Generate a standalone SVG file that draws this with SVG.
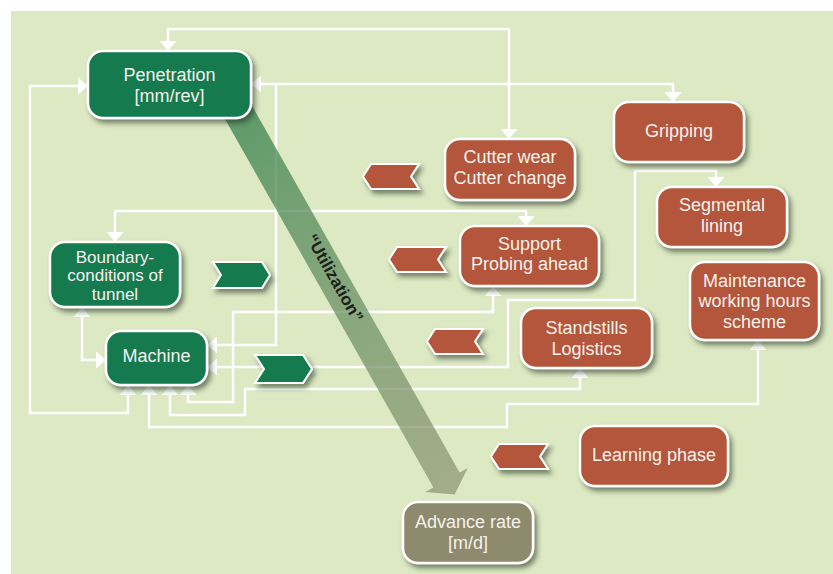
<svg xmlns="http://www.w3.org/2000/svg" width="833" height="574" viewBox="0 0 833 574">
<defs>
<filter id="sh" x="-20%" y="-20%" width="150%" height="160%">
<feDropShadow dx="3" dy="4" stdDeviation="2.5" flood-color="#1e2e1a" flood-opacity="0.55"/>
</filter>
<marker id="ah" viewBox="0 0 10 17" markerWidth="10" markerHeight="17" refX="10" refY="8.5" orient="auto-start-reverse" markerUnits="userSpaceOnUse">
<path d="M0,0 L10,8.5 L0,17 z" fill="#ffffff"/>
</marker>
<linearGradient id="bandg" gradientUnits="userSpaceOnUse" x1="231" y1="100" x2="450" y2="490">
<stop offset="0" stop-color="#2b7a47"/>
<stop offset="0.45" stop-color="#5f8c5e"/>
<stop offset="1" stop-color="#8e9571"/>
</linearGradient>
</defs>
<style>
.conn{fill:none;stroke:#ffffff;stroke-width:2.5;marker-start:url(#ah);marker-end:url(#ah)}
.one{marker-end:none}
.box{stroke:#ffffff;stroke-width:2.5;filter:url(#sh)}
.g{fill:#127a4f}
.r{fill:#b3563a}
.a{fill:#8d8a6d}
.t{font-family:"Liberation Sans",Arial,sans-serif;font-size:18px;fill:#f5f1ec;text-anchor:middle}
.s{font-size:17px}
.chev{stroke:#ffffff;stroke-width:2;filter:url(#sh)}
.ut{font-family:"Liberation Sans",Arial,sans-serif;font-size:17px;font-weight:bold;fill:#1d1f1b;text-anchor:middle}
</style>
<rect x="0" y="0" width="833" height="574" fill="#ffffff"/>
<rect x="11" y="11" width="822" height="563" fill="#dce9c3"/>

<g id="connectors">
<path class="conn" d="M168,51 V29 H509 V139"/>
<path class="conn" d="M251,84 H673 V102"/>
<path class="conn one" d="M207,345 H276 V84"/>
<path class="conn" d="M207,367 H508 V300 H635 V171 H716 V187"/>
<path class="conn" d="M188,385 V402 H233 V312 H493 V286"/>
<path class="conn" d="M170,385 V415 H245 V389 H580 V368"/>
<path class="conn" d="M149,385 V427 H507 V404 H758 V340"/>
<path class="conn" d="M128,385 V413 H30 V86 H88"/>
<path class="conn" d="M115,242 V211 H526 V226"/>
<path class="conn" d="M82,307 V360 H106"/>
</g>

<g id="utilization">
<polygon points="244.6,92.6 459.6,472.6 467.8,467.9 454.7,494.5 425.2,492.1 433.4,487.4 218.4,107.4" fill="url(#bandg)" opacity="0.72"/>
<text class="ut" transform="translate(335,278) rotate(60.5)" y="6">“Utilization”</text>
</g>

<g id="penetration">
<rect class="box g" x="88" y="51" width="163" height="67" rx="15"/>
<text class="t" x="169.5" y="81">Penetration</text>
<text class="t" x="169.5" y="101.5">[mm/rev]</text>
</g>
<g id="cutter">
<rect class="box r" x="445" y="139" width="130" height="61" rx="15"/>
<text class="t" x="510" y="163">Cutter wear</text>
<text class="t" x="510" y="183.5">Cutter change</text>
</g>
<g id="gripping">
<rect class="box r" x="614" y="102" width="130" height="60" rx="15"/>
<text class="t" x="679" y="137">Gripping</text>
</g>
<g id="segmental">
<rect class="box r" x="657" y="187" width="130" height="60" rx="15"/>
<text class="t" x="722" y="211">Segmental</text>
<text class="t" x="722" y="231.5">lining</text>
</g>
<g id="maintenance">
<rect class="box r" x="690" y="262" width="129" height="78" rx="15"/>
<text class="t" x="754.5" y="286.5">Maintenance</text>
<text class="t" x="754.5" y="307">working hours</text>
<text class="t" x="754.5" y="327.5">scheme</text>
</g>
<g id="support">
<rect class="box r" x="460" y="226" width="139" height="60" rx="15"/>
<text class="t" x="529.5" y="249.5">Support</text>
<text class="t" x="529.5" y="270">Probing ahead</text>
</g>
<g id="standstills">
<rect class="box r" x="521" y="308" width="131" height="60" rx="15"/>
<text class="t" x="586.5" y="334">Standstills</text>
<text class="t" x="586.5" y="355">Logistics</text>
</g>
<g id="learning">
<rect class="box r" x="580" y="426" width="148" height="60" rx="15"/>
<text class="t" x="654" y="461">Learning phase</text>
</g>
<g id="advance">
<rect class="box a" x="403" y="502" width="130" height="61" rx="15"/>
<text class="t" x="468" y="528">Advance rate</text>
<text class="t" x="468" y="548.5">[m/d]</text>
</g>
<g id="boundary">
<rect class="box g" x="50" y="242" width="130" height="65" rx="15"/>
<text class="t s" x="115" y="262.5">Boundary-</text>
<text class="t s" x="115" y="281">conditions of</text>
<text class="t s" x="115" y="299.5">tunnel</text>
</g>
<g id="machine">
<rect class="box g" x="106" y="331" width="101" height="54" rx="15"/>
<text class="t" x="156.5" y="362">Machine</text>
</g>

<g id="chevrons">
<polygon class="chev g" points="213,262 262,262 270,275 262,288 213,288 221,275"/>
<polygon class="chev g" points="255,355 303,355 312,369 303,383 255,383 264,369"/>
<polygon class="chev r" points="371,164 419,164 411,176.5 419,189 371,189 363,176.5"/>
<polygon class="chev r" points="397,247 446,247 438,259.5 446,272 397,272 389,259.5"/>
<polygon class="chev r" points="435,329 483,329 475,341.5 483,354 435,354 427,341.5"/>
<polygon class="chev r" points="499,444 548,444 540,456.5 548,469 499,469 491,456.5"/>
</g>
</svg>
